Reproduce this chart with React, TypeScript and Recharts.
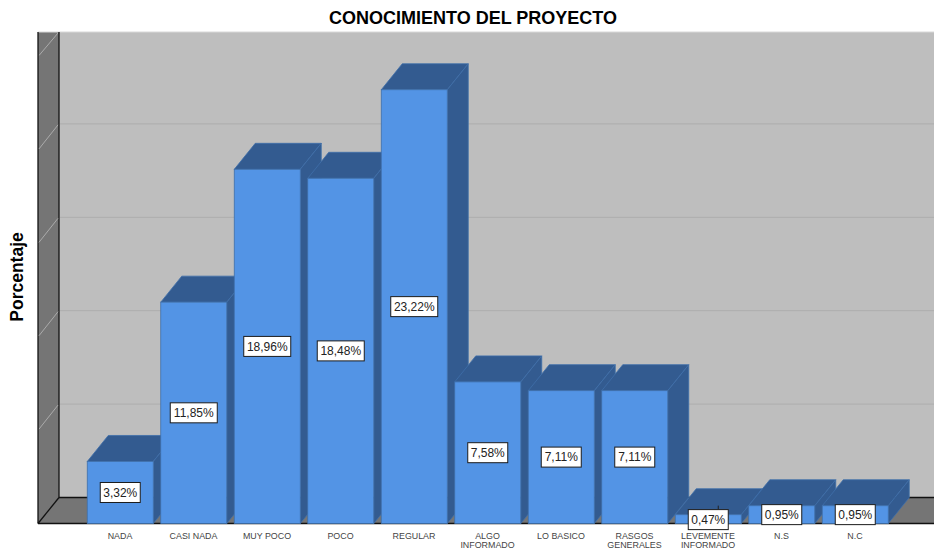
import React from "react";
import { BarChart, Bar, XAxis, YAxis, LabelList, ReferenceArea, Customized } from "recharts";

const categories = ["NADA", "CASI NADA", "MUY POCO", "POCO", "REGULAR", "ALGO INFORMADO", "LO BASICO", "RASGOS GENERALES", "LEVEMENTE INFORMADO", "N.S", "N.C"];
const percentages = [3.32, 11.85, 18.96, 18.48, 23.22, 7.58, 7.11, 7.11, 0.47, 0.95, 0.95];
const gridValues = [5, 10, 15, 20];
const axisMax = 25;
const data = categories.map((name, i) => ({ name, value: percentages[i] }));

const W = 934;
const H = 549;
const DX = 21;
const DY = 26;
const WALL_LEFT = 38;
const WALL_TOP = 32;
const FRONT = "#5394E5";
const DARK = "#335B90";
const EDGE = "#3F6FA9";

const Box3D = (p: any) => {
  const { x, y, width, height } = p;
  const r = x + width;
  const b = y + height;
  return (
    <g>
      <polygon points={`${x},${y} ${r},${y} ${r + DX},${y - DY} ${x + DX},${y - DY}`} fill={DARK} stroke={EDGE} strokeWidth={0.8} />
      <polygon points={`${r},${y} ${r + DX},${y - DY} ${r + DX},${b - DY} ${r},${b}`} fill={DARK} stroke={EDGE} strokeWidth={0.8} />
      <rect x={x} y={y} width={width} height={height} fill={FRONT} stroke={EDGE} strokeWidth={0.8} />
    </g>
  );
};

const Walls = (p: any) => {
  const top = p.y;
  const bottom = p.y + p.height;
  const back = WALL_LEFT + DX;
  const floorY = bottom - DY;
  return (
    <g>
      <rect x={back} y={WALL_TOP} width={W - back} height={floorY - WALL_TOP} fill="#BEBEBE" />
      <polygon points={`${WALL_LEFT},${WALL_TOP} ${back},${WALL_TOP} ${back},${floorY} ${WALL_LEFT},${bottom}`} fill="#757575" />
      <polygon points={`${WALL_LEFT},${bottom} ${back},${floorY} ${W},${floorY} ${W},${bottom}`} fill="#757575" />
      <line x1={back - 1} y1={WALL_TOP + 1} x2={WALL_LEFT + 1} y2={top - 1} stroke="#ABABAB" strokeWidth={1} />
      <line x1={WALL_LEFT} y1={WALL_TOP} x2={W} y2={WALL_TOP} stroke="#D8D8D8" strokeWidth={1} />
      <line x1={WALL_LEFT} y1={WALL_TOP} x2={WALL_LEFT} y2={bottom} stroke="#111" strokeWidth={1.3} />
      <line x1={back} y1={WALL_TOP} x2={back} y2={floorY} stroke="#111" strokeWidth={1.3} />
      <line x1={back} y1={floorY} x2={W} y2={floorY} stroke="#111" strokeWidth={1.3} />
      <line x1={WALL_LEFT} y1={bottom} x2={back} y2={floorY} stroke="#111" strokeWidth={1.3} />
      <line x1={WALL_LEFT} y1={bottom} x2={W} y2={bottom} stroke="#111" strokeWidth={1.3} />
    </g>
  );
};

// The grid value is the lower edge of an area that reaches the axis maximum.
const GridLine = (p: any) => {
  const y = p.y + p.height;
  return (
    <g>
      <line x1={WALL_LEFT + DX + 1} y1={y - DY} x2={W} y2={y - DY} stroke="#ADADAD" strokeWidth={1} />
      <line x1={WALL_LEFT + DX - 1} y1={y - DY + 1} x2={WALL_LEFT + 1} y2={y - 1} stroke="#ABABAB" strokeWidth={1} />
    </g>
  );
};

const ValueLabel = (p: any) => {
  const { x, y, width, height, value } = p;
  const text = Number(value).toFixed(2).replace(".", ",") + "%";
  const w = text.length > 5 ? 47 : 40;
  const h = 20;
  const cx = x + width / 2;
  const small = value < 0.5;
  const cy = small ? y + height / 2 + 0.5 : y + height / 2;
  return (
    <g>
      {small && <line x1={cx + 10} y1={cy - 14} x2={cx + 10} y2={cy - 10} stroke="#222" strokeWidth={1} />}
      <rect x={cx - w / 2} y={cy - h / 2} width={w} height={h} fill="#FFFFFF" stroke="#1C1C1C" strokeWidth={1} />
      <text x={cx} y={cy + 4.3} textAnchor="middle" fontFamily="Liberation Sans" fontSize={12} fill="#222">{text}</text>
    </g>
  );
};

const CategoryTick = (p: any) => {
  const { x, payload } = p;
  const s: string = payload.value;
  const lines = s.length > 9 && s.includes(" ") ? s.split(" ") : [s];
  return (
    <text textAnchor="middle" fontFamily="Liberation Sans" fontSize={8.9} fill="#444">
      {lines.map((l, i) => (
        <tspan key={l} x={x} y={539 + i * 9}>{l}</tspan>
      ))}
    </text>
  );
};

const Titles = () => (
  <g fontFamily="Liberation Sans" fontWeight="bold" fill="#000">
    <text x={473} y={24} textAnchor="middle" fontSize={18}>CONOCIMIENTO DEL PROYECTO</text>
    <text transform="translate(23,277) rotate(-90)" textAnchor="middle" fontSize={17.5}>Porcentaje</text>
  </g>
);

export default function App() {
  return (
    <div style={{ position: "absolute", left: 0, top: 0, width: W, height: H }}>
      <BarChart width={W} height={H} data={data} barSize={66} margin={{ top: 56.5, right: 42.25, bottom: 0, left: 83.25 }}>
        <XAxis dataKey="name" interval={0} axisLine={false} tickLine={false} tick={CategoryTick} height={25.5} />
        <YAxis hide domain={[0, axisMax]} />
        <ReferenceArea y1={0} y2={axisMax} ifOverflow="visible" shape={Walls} />
        {gridValues.map((v) => (
          <ReferenceArea key={v} y1={v} y2={axisMax} ifOverflow="visible" shape={GridLine} />
        ))}
        <Customized component={Titles} />
        <Bar dataKey="value" shape={Box3D} isAnimationActive={false}>
          <LabelList dataKey="value" content={ValueLabel} />
        </Bar>
      </BarChart>
    </div>
  );
}
